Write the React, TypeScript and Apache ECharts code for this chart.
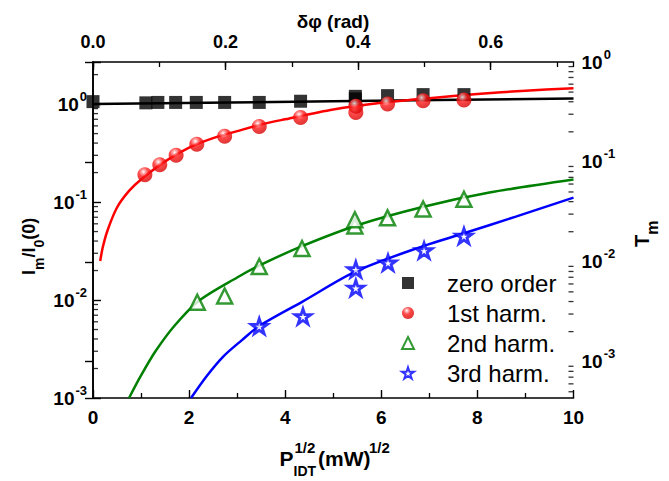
import React, { useEffect, useRef } from 'react';
import * as echarts from 'echarts';

const FONT = '"Liberation Sans", Arial, Helvetica, sans-serif';

// ---- measured points ----
const zeroX = [0, 1.1, 1.35, 1.72, 2.15, 2.74, 3.46, 4.32, 5.46, 5.46, 6.13, 6.87, 7.72];
const zeroY = [1.06, 1.03, 1.04, 1.04, 1.04, 1.04, 1.04, 1.07, 1.13, 1.2, 1.22, 1.25, 1.25];

const firstX = [1.08, 1.39, 1.73, 2.16, 2.74, 3.46, 4.32, 5.47, 5.47, 6.13, 6.87, 7.72];
const firstY = [0.19, 0.24, 0.3, 0.39, 0.47, 0.59, 0.73, 0.82, 0.95, 1.0, 1.08, 1.1];

const secondX = [2.17, 2.74, 3.46, 4.35, 5.45, 5.45, 6.13, 6.87, 7.72];
const secondY = [0.0095, 0.011, 0.022, 0.0336, 0.057, 0.066, 0.069, 0.085, 0.107];

const thirdX = [3.46, 4.37, 5.47, 5.47, 6.14, 6.89, 7.72];
const thirdY = [0.0054, 0.0068, 0.0133, 0.0205, 0.024, 0.032, 0.045];

// ---- fitted curves ----
const zeroFitX = [0, 5, 10];
const zeroFitY = [1.0, 1.07, 1.14];

const firstFitX = [0.15, 0.2, 0.3, 0.5, 0.75, 1, 1.5, 2, 2.5, 3, 3.5, 4, 5, 6, 7, 8, 9, 10];
const firstFitY = [0.025, 0.034, 0.051, 0.088, 0.13, 0.17, 0.26, 0.36, 0.45, 0.53, 0.62, 0.7, 0.88, 1.03, 1.15, 1.27, 1.37, 1.45];

const secondFitX = [0.75, 1.0, 1.3, 1.7, 2.2, 3.0, 3.5, 4.35, 5.5, 6.9, 8.25, 10];
const secondFitY = [0.001, 0.0017, 0.003, 0.0055, 0.0098, 0.017, 0.023, 0.0355, 0.058, 0.09, 0.125, 0.17];

const thirdFitX = [2.04, 2.36, 2.71, 3.1, 3.45, 4.37, 5.48, 6.87, 7.72, 8.8, 10];
const thirdFitY = [0.001, 0.00166, 0.00265, 0.0039, 0.0054, 0.0097, 0.0197, 0.0355, 0.048, 0.071, 0.111];

// ---- axes ----
const bottomMin = 0;
const bottomMax = 10;
const topMax = 0.725;
const leftMin = 0.001;
const leftMax = 2.69;
const rightMin = 4.33e-4;
const rightMax = 1;

const legendNames = ['zero order', '1st harm.', '2nd harm.', '3rd harm.'];

const STAR =
  'path://M50,0L61.23,34.55L97.55,34.55L68.16,55.9L79.39,90.45L50,69.1L20.61,90.45L31.84,55.9L2.45,34.55L38.77,34.55Z';

function minorLogValues(min: number, max: number): number[] {
  const out: number[] = [];
  for (let k = -5; k <= 1; k++) {
    for (let m = 2; m <= 9; m++) {
      const v = m * Math.pow(10, k);
      if (v > min && v < max) out.push(v);
    }
  }
  return out;
}

const logLabel = (v: number) => {
  const e = Math.log10(v);
  const r = Math.round(e);
  if (Math.abs(e - r) > 1e-6) return '';
  return `{m|10}{s|${r}}`;
};

const labelRich = {
  m: { fontSize: 19, fontWeight: 'bold', fontFamily: FONT, color: '#000', padding: [8, 0, 8, 0], verticalAlign: 'top' },
  s: { fontSize: 13, fontWeight: 'bold', fontFamily: FONT, color: '#000', padding: [3, 0, 0, 1], verticalAlign: 'top' },
};

const axisLineStyle = { show: true, lineStyle: { color: '#000', width: 1.6 } };
const tickStyle = { show: true, inside: true, length: 8, lineStyle: { color: '#000', width: 1.4 } };

function pairs(xs: number[], ys: number[]) {
  return xs.map((x, i) => [x, ys[i]]);
}

function fitLine(name: string, xs: number[], ys: number[], color: string) {
  return {
    type: 'line',
    name,
    data: pairs(xs, ys),
    xAxisIndex: 0,
    yAxisIndex: 0,
    showSymbol: false,
    symbol: 'none',
    smooth: 0.3,
    silent: true,
    lineStyle: { color, width: 2.5 },
    itemStyle: { color },
    z: 2,
  };
}

// minor ticks of the log axes, placed by the axes' own scales
function minorTicks(name: string, xVal: number, yIndex: number, values: number[], dir: number) {
  return {
    type: 'scatter',
    name,
    xAxisIndex: 0,
    yAxisIndex: yIndex,
    data: values.map((v) => [xVal, v]),
    symbol: 'rect',
    symbolSize: [5, 1.3],
    symbolOffset: [dir * 2.5, 0],
    clip: false,
    silent: true,
    itemStyle: { color: '#000' },
    z: 6,
  };
}

export default function App() {
  const ref = useRef<HTMLDivElement>(null);
  useEffect(() => {
    document.body.style.margin = '0';
    const chart = echarts.init(ref.current!, undefined, { renderer: 'svg' });
    const sphere = new echarts.graphic.RadialGradient(0.4, 0.3, 0.75, [
      { offset: 0, color: '#ffffff' },
      { offset: 0.18, color: '#ff9090' },
      { offset: 0.42, color: '#ff1a1a' },
      { offset: 1, color: '#d00000' },
    ]);
    const subRich = (main: number, sub: number, drop: number) => ({
      a: { fontSize: main, fontWeight: 'bold', fontFamily: FONT, fill: '#000', verticalAlign: 'top' },
      b: { fontSize: sub, fontWeight: 'bold', fontFamily: FONT, fill: '#000', verticalAlign: 'top', padding: [drop, 0, 0, 0] },
    });
    const supStyle = { fontSize: 15, fontWeight: 'bold', fontFamily: FONT, fill: '#000', align: 'left', verticalAlign: 'middle' };
    const mainStyle = { fontSize: 21, fontWeight: 'bold', fontFamily: FONT, fill: '#000', align: 'left', verticalAlign: 'middle' };
    const titles: any[] = [
      {
        type: 'text',
        x: 333,
        y: 21,
        style: { text: 'δφ (rad)', fontSize: 19, fontWeight: 'bold', fontFamily: FONT, fill: '#000', align: 'center', verticalAlign: 'middle' },
      },
      {
        type: 'text',
        x: 33,
        y: 275,
        rotation: Math.PI / 2,
        style: {
          text: '{a|I}{b|m}{a|/I}{b|0}{a|(0)}',
          rich: subRich(18, 14, 12),
          align: 'left',
          verticalAlign: 'middle',
        },
      },
      {
        type: 'text',
        x: 646,
        y: 247,
        rotation: Math.PI / 2,
        style: {
          text: '{a|T}{b|m}',
          rich: subRich(20, 16, 12),
          align: 'left',
          verticalAlign: 'middle',
        },
      },
      { type: 'text', x: 279.5, y: 458, style: { ...mainStyle, text: 'P' } },
      { type: 'text', x: 294.5, y: 447, style: { ...supStyle, text: '1/2' } },
      { type: 'text', x: 293.5, y: 471, style: { ...supStyle, fontSize: 14, text: 'IDT' } },
      { type: 'text', x: 318, y: 458, style: { ...mainStyle, text: '(mW)' } },
      { type: 'text', x: 369, y: 447, style: { ...supStyle, text: '1/2' } },
    ];
    const option: any = {
      animation: false,
      backgroundColor: '#fff',
      grid: { left: 93, right: 95.5, top: 62, bottom: 83, outerBoundsMode: 'none', containLabel: false },
      legend: {
        data: legendNames,
        orient: 'vertical',
        left: 396,
        top: 266,
        itemWidth: 12,
        itemHeight: 12,
        itemGap: 6,
        selectedMode: false,
        textStyle: { fontSize: 24, color: '#000', fontFamily: FONT, padding: [0, 0, 0, 28] },
      },
      graphic: titles,
      xAxis: [
        {
          type: 'value',
          position: 'bottom',
          min: bottomMin,
          max: bottomMax,
          interval: 2,
          axisLine: axisLineStyle,
          axisTick: tickStyle,
          minorTick: { show: true, splitNumber: 2, length: 5, lineStyle: { color: '#000', width: 1.3 } },
          splitLine: { show: false },
          minorSplitLine: { show: false },
          axisLabel: { color: '#000', fontSize: 19, fontWeight: 'bold', fontFamily: FONT, margin: 10 },
        },
        {
          type: 'value',
          position: 'top',
          min: 0,
          max: topMax,
          interval: 0.2,
          axisLine: axisLineStyle,
          axisTick: tickStyle,
          splitLine: { show: false },
          axisLabel: {
            color: '#000',
            fontSize: 18,
            fontWeight: 'bold',
            fontFamily: FONT,
            margin: 11,
            showMaxLabel: false,
            formatter: (v: number) => v.toFixed(1),
          },
        },
        {
          type: 'value',
          position: 'top',
          min: 0,
          max: topMax,
          interval: 0.1,
          axisLine: { show: false },
          axisTick: { show: true, inside: true, length: 5, lineStyle: { color: '#000', width: 1.3 } },
          splitLine: { show: false },
          axisLabel: { show: false },
        },
      ],
      yAxis: [
        {
          type: 'log',
          logBase: 10,
          position: 'left',
          min: leftMin,
          max: leftMax,
          splitNumber: 3,
          axisLine: axisLineStyle,
          axisTick: tickStyle,
          splitLine: { show: false },
          axisLabel: { formatter: logLabel, rich: labelRich, margin: 6 },
        },
        {
          type: 'log',
          logBase: 10,
          position: 'right',
          min: rightMin,
          max: rightMax,
          splitNumber: 3,
          axisLine: axisLineStyle,
          axisTick: tickStyle,
          splitLine: { show: false },
          axisLabel: { formatter: logLabel, rich: labelRich, margin: 8 },
        },
      ],
      series: [
        fitLine('zero fit', zeroFitX, zeroFitY, '#000000'),
        fitLine('1st fit', firstFitX, firstFitY, '#ff0000'),
        fitLine('2nd fit', secondFitX, secondFitY, '#008000'),
        fitLine('3rd fit', thirdFitX, thirdFitY, '#0000ff'),
        minorTicks('left minor ticks', bottomMin, 0, minorLogValues(leftMin, leftMax), 1),
        minorTicks('right minor ticks', bottomMax, 1, minorLogValues(rightMin, rightMax), -1),
        {
          type: 'scatter',
          name: legendNames[0],
          data: pairs(zeroX, zeroY),
          symbol: 'rect',
          symbolSize: 13,
          clip: false,
          itemStyle: { color: '#000' },
          z: 3,
        },
        {
          type: 'scatter',
          name: legendNames[1],
          data: pairs(firstX, firstY),
          symbol: 'circle',
          symbolSize: 15,
          clip: false,
          itemStyle: { color: sphere },
          z: 4,
        },
        {
          type: 'scatter',
          name: legendNames[2],
          data: pairs(secondX, secondY),
          symbol: 'triangle',
          symbolSize: 15,
          clip: false,
          itemStyle: { color: '#ffffff', borderColor: '#008000', borderWidth: 2.5 },
          z: 4,
        },
        {
          type: 'scatter',
          name: legendNames[3],
          data: pairs(thirdX, thirdY),
          symbol: STAR,
          symbolKeepAspect: true,
          symbolSize: 16,
          clip: false,
          itemStyle: { color: '#ffffff', borderColor: '#0000ff', borderWidth: 2.8 },
          z: 4,
        },
      ],
    };
    chart.setOption(option);
    return () => chart.dispose();
  }, []);
  return <div ref={ref} style={{ position: 'fixed', left: 0, top: 0, width: 669, height: 481 }} />;
}
